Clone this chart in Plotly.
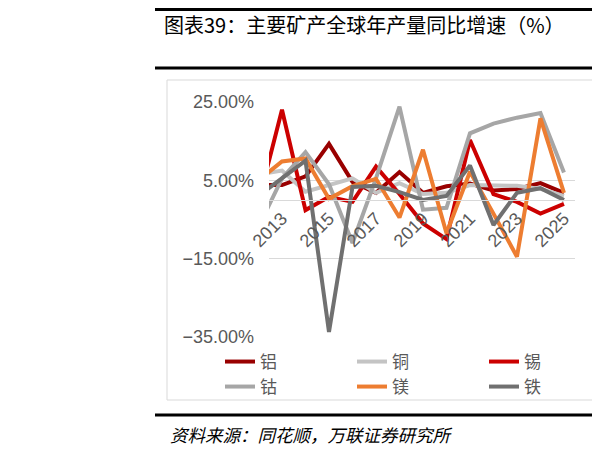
import plotly.graph_objects as go

years = list(range(2012, 2026))
tick_years = [2013, 2015, 2017, 2019, 2021, 2023, 2025]
y_ticks = [-35, -15, 5, 25]
y_tick_labels = ["\u221235.00%", "\u221215.00%", "5.00%", "25.00%"]

aluminum = [3.8, 3.8, 6.0, 14.3, 4.6, 1.8, 7.1, 1.8, 3.5, 4.2, 2.4, 2.8, 4.3, 1.8]
copper = [6.5, 7.5, 2.1, 3.8, 5.5, 1.8, 4.3, 1.5, 1.8, 3.8, 3.8, 3.6, 2.8, 1.0]
tin = [-0.5, 23.0, -2.6, 0.8, -0.5, 8.5, 1.5, -6.0, -10.0, 15.3, 1.5, -0.5, -3.5, -1.0]
cobalt = [-6.9, 5.5, 12.2, 4.0, -11.0, 5.5, 23.8, -2.5, -2.0, 17.0, 19.5, 21.0, 22.2, 7.0]
magnesium = [5.0, 9.8, 10.6, 0.3, 3.5, 5.4, -4.5, 12.8, -8.5, 7.2, -3.5, -14.5, 20.8, 1.8]
iron = [1.0, 5.5, 10.0, -33.7, 3.3, 3.6, 2.0, 0.0, 1.0, 8.8, -6.4, 1.8, 3.0, 0.0]

names = ["铝", "铜", "锡", "钴", "镁", "铁"]
series = [aluminum, copper, tin, cobalt, magnesium, iron]
colors = ["#990000", "#C4C4C4", "#CC0000", "#A6A6A6", "#ED7D31", "#707070"]
legends = ["legend", "legend", "legend", "legend2", "legend2", "legend2"]

W, H = 600, 451
OFF = 8  # page body margin offset in the browser
def px(x):
    return (x - OFF) / W
def py(y):
    return 1 - (y - OFF) / H

fig = go.Figure()
for n, s, c, lg in zip(names, series, colors, legends):
    fig.add_trace(go.Scatter(x=years, y=s, name=n, mode="lines",
                             line=dict(color=c, width=4), legend=lg))

y_dom = [py(337), py(102)]
zero_pos = y_dom[0] + (0 - (-35)) / 60 * (y_dom[1] - y_dom[0])

tickfont = dict(family="Liberation Sans, Arial, sans-serif", size=18, color="#595959")
legfont = dict(family="Noto Sans CJK SC, sans-serif", size=17, color="#595959")

fig.update_layout(
    width=W, height=H,
    margin=dict(l=0, r=0, t=0, b=0, autoexpand=False),
    paper_bgcolor="white", plot_bgcolor="white",
    xaxis=dict(domain=[px(269), px(575)], range=[2012.447, 2025.47],
               anchor="free", position=zero_pos,
               tickvals=tick_years, ticktext=[str(t) for t in tick_years],
               tickangle=-45, showgrid=False, zeroline=False,
               showline=True, linecolor="#D9D9D9", linewidth=1,
               ticks="", tickfont=tickfont),
    yaxis=dict(domain=y_dom, range=[-35, 25], tickvals=y_ticks,
               ticktext=y_tick_labels, showgrid=True,
               gridcolor="#D9D9D9", gridwidth=1, zeroline=False,
               showline=False, ticks="", tickfont=tickfont,
               ticklabelstandoff=14),
    legend=dict(orientation="h", x=px(220), y=py(362), xanchor="left",
                yanchor="middle", entrywidth=87, entrywidthmode="pixels",
                font=legfont, bgcolor="rgba(0,0,0,0)"),
    legend2=dict(orientation="h", x=px(220), y=py(387), xanchor="left",
                 yanchor="middle", entrywidth=87, entrywidthmode="pixels",
                 font=legfont, bgcolor="rgba(0,0,0,0)"),
    showlegend=True,
)

shapes = [
    dict(type="line", xref="paper", yref="paper", x0=px(155), x1=px(600), y0=1 - 1.5 / H, y1=1 - 1.5 / H,
         line=dict(color="black", width=3)),
    dict(type="line", xref="paper", yref="paper", x0=px(155), x1=px(600), y0=py(68), y1=py(68),
         line=dict(color="black", width=3)),
    dict(type="rect", xref="paper", yref="paper", x0=px(167), x1=px(597), y0=py(80), y1=py(400),
         line=dict(color="#D9D9D9", width=1)),
    dict(type="line", xref="paper", yref="paper", x0=px(155), x1=px(600), y0=py(415), y1=py(415),
         line=dict(color="black", width=3)),
]
fig.update_layout(shapes=shapes)

fig.add_annotation(xref="paper", yref="paper", x=px(162), y=py(24), xanchor="left", yanchor="middle",
                   text="图表39：主要矿产全球年产量同比增速（%）", showarrow=False,
                   font=dict(family="Noto Sans CJK SC, sans-serif", size=20, color="black"))
fig.add_annotation(xref="paper", yref="paper", x=px(168), y=py(434), xanchor="left", yanchor="middle",
                   text="<i>资料来源：同花顺，万联证券研究所</i>", showarrow=False,
                   font=dict(family="Noto Sans CJK SC, sans-serif", size=17.5, color="black"))

fig.write_html("out.html")
